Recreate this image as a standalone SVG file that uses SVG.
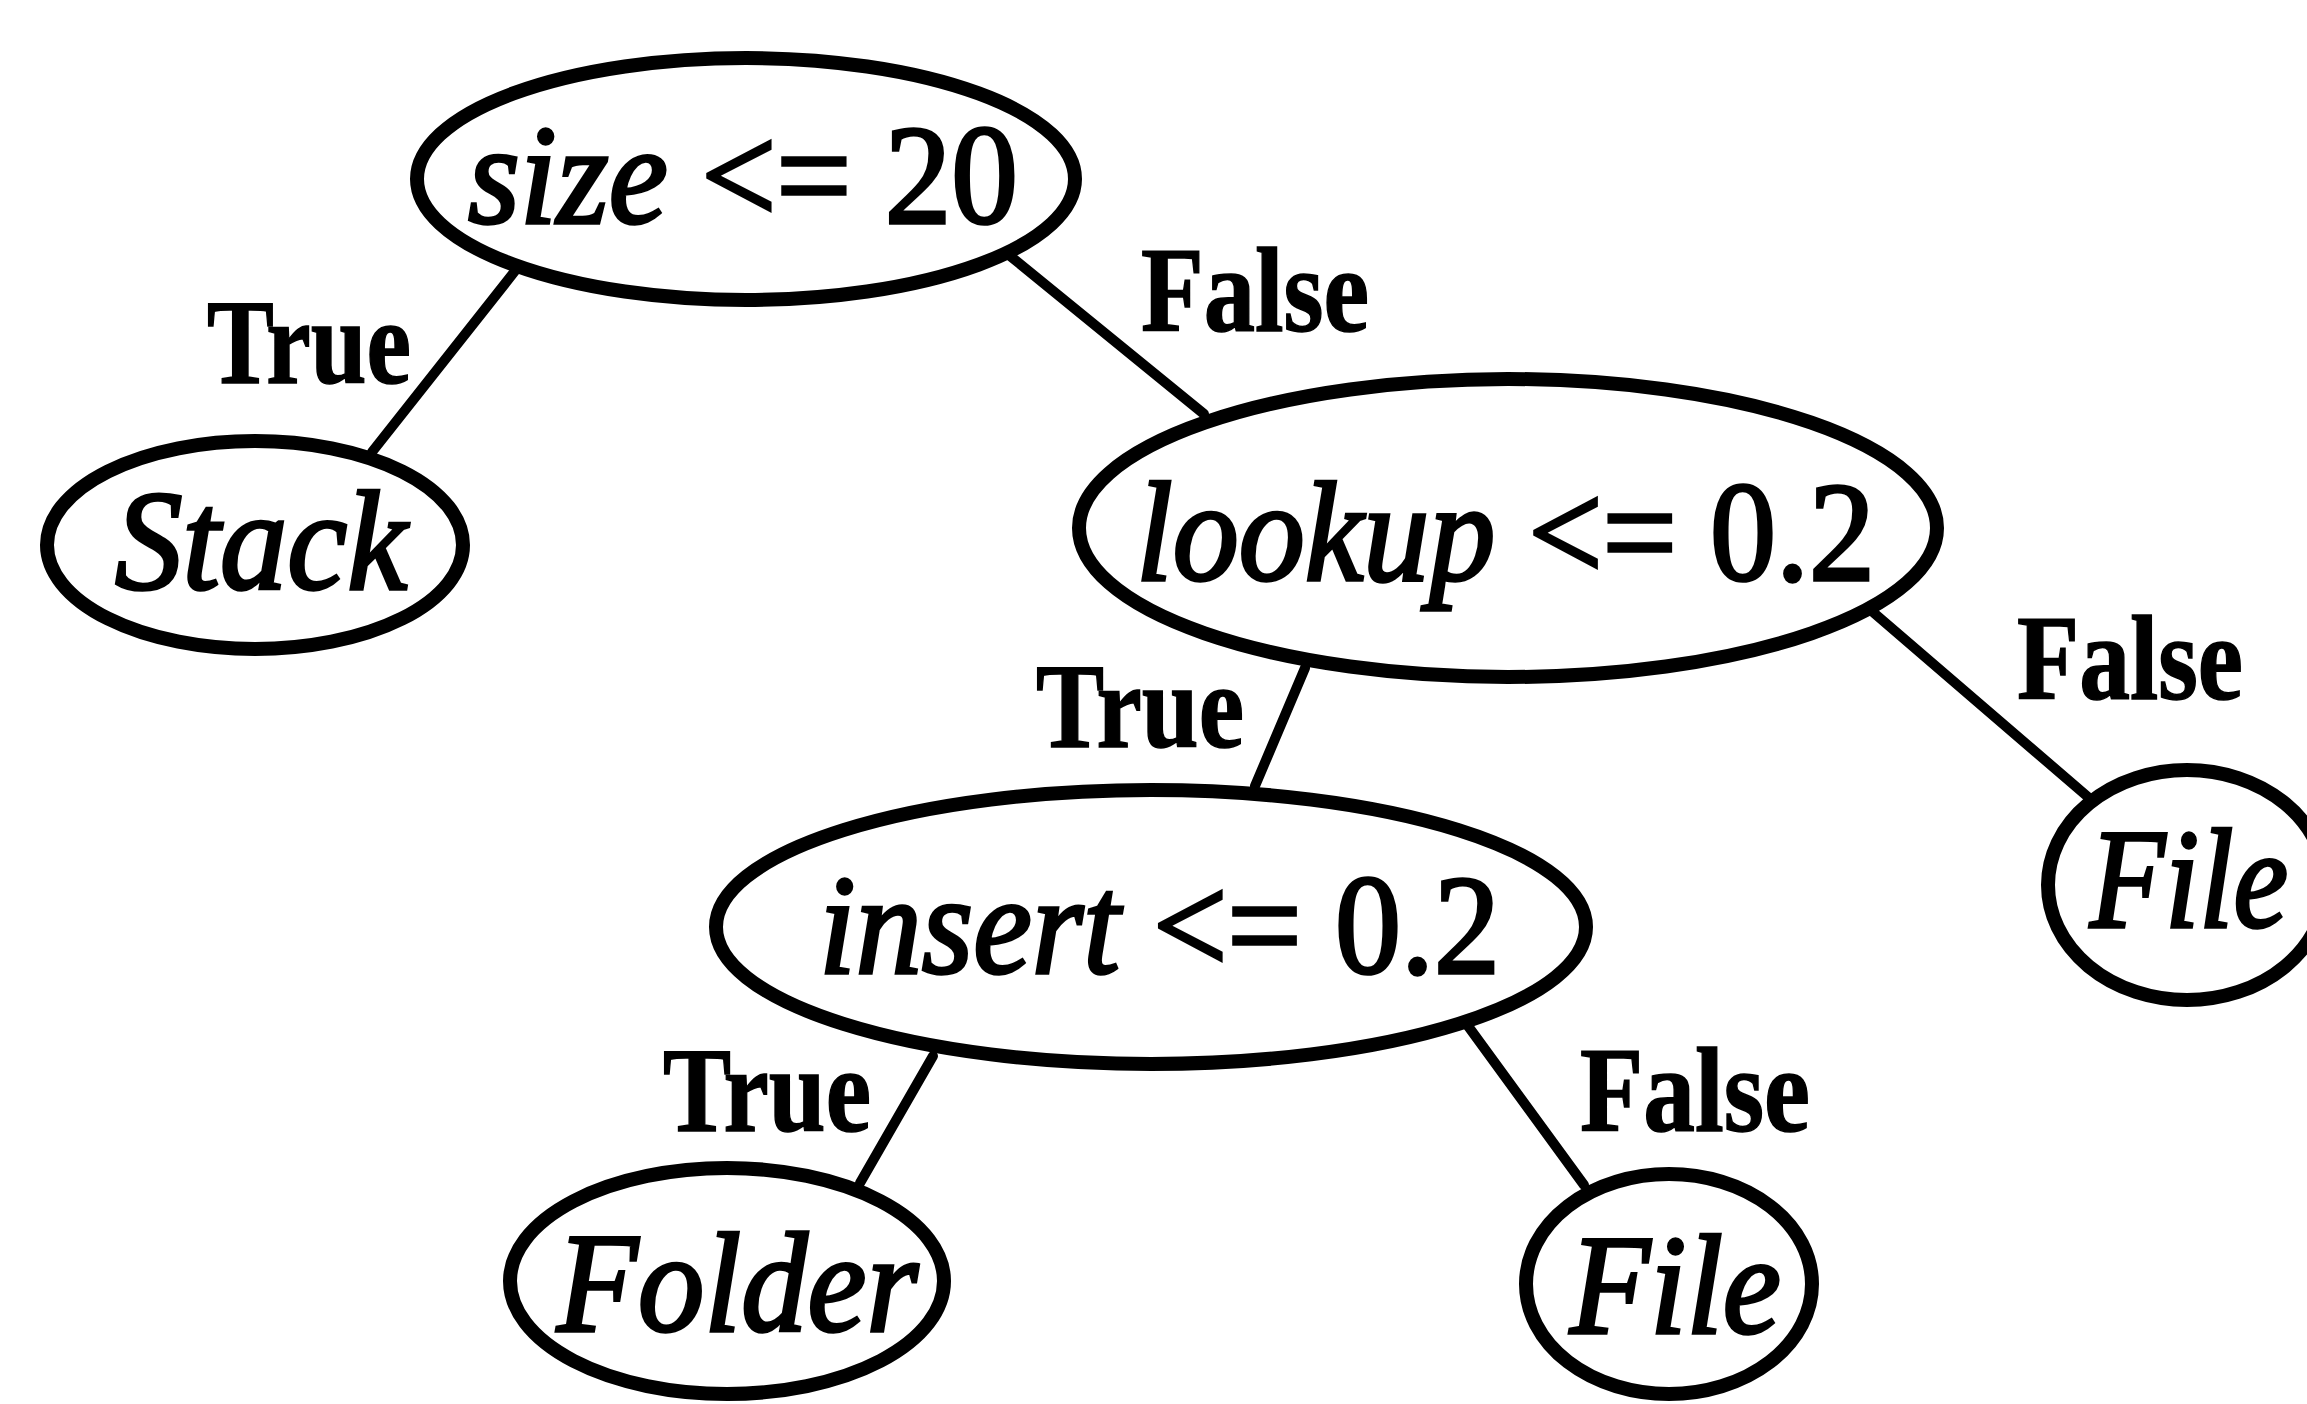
<svg xmlns="http://www.w3.org/2000/svg" width="2307" height="1404" viewBox="0 0 2307 1404">
<style>
.node{fill:#fff;stroke:#000;stroke-width:14}
.edge{stroke:#000;stroke-width:10;stroke-linecap:round;fill:none}
.lbl{font-family:"Liberation Serif","Times New Roman",serif;font-weight:bold;font-size:120px;fill:#000;stroke:#000;stroke-width:1.5}
.nt{font-family:"Liberation Serif","Times New Roman",serif;font-size:142px;fill:#000;stroke:#000;stroke-width:3.5}
.it{font-style:italic}
</style>
<rect width="2307" height="1404" fill="#fff"/>
<g id="connectors">
<line class="edge" x1="515" y1="271" x2="372" y2="452"/>
<line class="edge" x1="1009" y1="255" x2="1204" y2="414"/>
<line class="edge" x1="1874" y1="613" x2="2088" y2="797"/>
<line class="edge" x1="1305" y1="668" x2="1255" y2="786"/>
<line class="edge" x1="933" y1="1056" x2="860" y2="1183"/>
<line class="edge" x1="1468" y1="1026" x2="1584" y2="1185"/>
</g>
<g id="labels">
<text class="lbl" x="207" y="383" textLength="204" lengthAdjust="spacingAndGlyphs">True</text>
<text class="lbl" x="1141" y="331" textLength="228" lengthAdjust="spacingAndGlyphs">False</text>
<text class="lbl" x="1036" y="747" textLength="208" lengthAdjust="spacingAndGlyphs">True</text>
<text class="lbl" x="2017" y="699" textLength="226" lengthAdjust="spacingAndGlyphs">False</text>
<text class="lbl" x="663" y="1131" textLength="208" lengthAdjust="spacingAndGlyphs">True</text>
<text class="lbl" x="1580" y="1131" textLength="230" lengthAdjust="spacingAndGlyphs">False</text>
</g>
<g id="n-root">
<ellipse class="node" cx="746" cy="179" rx="329" ry="121"/>
<text class="nt" x="468" y="223" textLength="550" lengthAdjust="spacingAndGlyphs"><tspan class="it">size</tspan> &lt;= 20</text>
</g>
<g id="n-stack">
<ellipse class="node" cx="255" cy="545" rx="208" ry="104"/>
<text class="nt it" x="115" y="589" textLength="292" lengthAdjust="spacingAndGlyphs">Stack</text>
</g>
<g id="n-lookup">
<ellipse class="node" cx="1508" cy="528" rx="429" ry="149"/>
<text class="nt" x="1136" y="580" textLength="739" lengthAdjust="spacingAndGlyphs"><tspan class="it">lookup</tspan> &lt;= 0.2</text>
</g>
<g id="n-file-right">
<ellipse class="node" cx="2187" cy="885" rx="139" ry="115"/>
<text class="nt it" x="2090" y="927" textLength="198" lengthAdjust="spacingAndGlyphs">File</text>
</g>
<g id="n-insert">
<ellipse class="node" cx="1151" cy="927" rx="435" ry="137"/>
<text class="nt" x="819" y="973" textLength="681" lengthAdjust="spacingAndGlyphs"><tspan class="it">insert</tspan> &lt;= 0.2</text>
</g>
<g id="n-folder">
<ellipse class="node" cx="727" cy="1281" rx="217" ry="113"/>
<text class="nt it" x="557" y="1331" textLength="361" lengthAdjust="spacingAndGlyphs">Folder</text>
</g>
<g id="n-file-bottom">
<ellipse class="node" cx="1669" cy="1284" rx="143" ry="110"/>
<text class="nt it" x="1570" y="1333" textLength="211" lengthAdjust="spacingAndGlyphs">File</text>
</g>
</svg>
